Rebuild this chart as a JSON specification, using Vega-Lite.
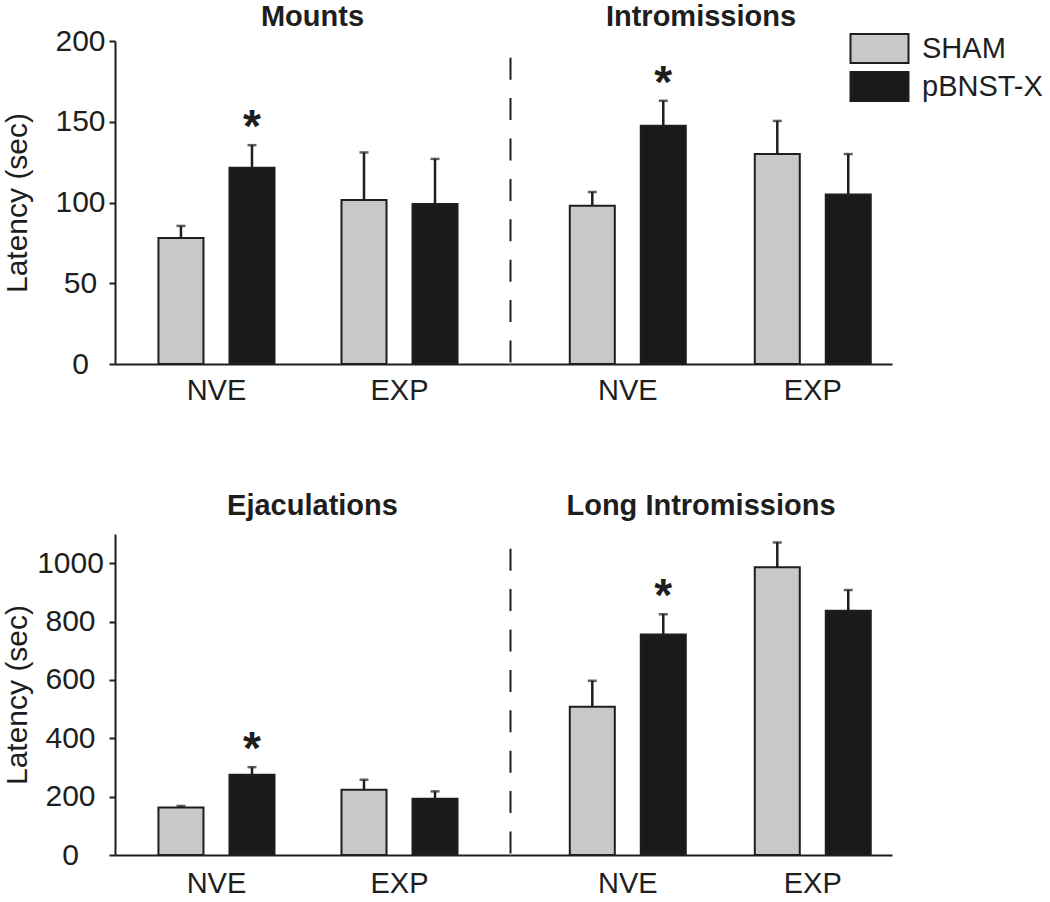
{
  "$schema": "https://vega.github.io/schema/vega-lite/v6.json",
  "padding": {"left": 2, "top": 3, "right": 5, "bottom": 5},
  "columns": 2,
  "bounds": "flush",
  "align": "each",
  "spacing": {"row": 170, "column": 0},
  "datasets": {
    "latency": [
      {"panel": "Mounts", "exp": "NVE", "group": "SHAM", "value": 78, "upper": 85.5, "star": ""},
      {"panel": "Mounts", "exp": "NVE", "group": "pBNST-X", "value": 121.5, "upper": 135.5, "star": "*"},
      {"panel": "Mounts", "exp": "EXP", "group": "SHAM", "value": 101.5, "upper": 131, "star": ""},
      {"panel": "Mounts", "exp": "EXP", "group": "pBNST-X", "value": 99, "upper": 127, "star": ""},
      {"panel": "Intromissions", "exp": "NVE", "group": "SHAM", "value": 98, "upper": 106.5, "star": ""},
      {"panel": "Intromissions", "exp": "NVE", "group": "pBNST-X", "value": 147.5, "upper": 163, "star": "*"},
      {"panel": "Intromissions", "exp": "EXP", "group": "SHAM", "value": 130, "upper": 150.5, "star": ""},
      {"panel": "Intromissions", "exp": "EXP", "group": "pBNST-X", "value": 105, "upper": 130, "star": ""},
      {"panel": "Ejaculations", "exp": "NVE", "group": "SHAM", "value": 163, "upper": 168, "star": ""},
      {"panel": "Ejaculations", "exp": "NVE", "group": "pBNST-X", "value": 275, "upper": 301, "star": "*"},
      {"panel": "Ejaculations", "exp": "EXP", "group": "SHAM", "value": 224, "upper": 258, "star": ""},
      {"panel": "Ejaculations", "exp": "EXP", "group": "pBNST-X", "value": 193, "upper": 218, "star": ""},
      {"panel": "Long Intromissions", "exp": "NVE", "group": "SHAM", "value": 508, "upper": 597, "star": ""},
      {"panel": "Long Intromissions", "exp": "NVE", "group": "pBNST-X", "value": 756, "upper": 825, "star": "*"},
      {"panel": "Long Intromissions", "exp": "EXP", "group": "SHAM", "value": 986, "upper": 1071, "star": ""},
      {"panel": "Long Intromissions", "exp": "EXP", "group": "pBNST-X", "value": 837, "upper": 908, "star": ""}
    ]
  },
  "config": {
    "font": "Liberation Sans",
    "view": {"stroke": null},
    "axis": {
      "domainColor": "#1e1e1e", "domainWidth": 2, "tickColor": "#1e1e1e", "tickWidth": 2, "tickSize": 6,
      "labelColor": "#1e1e1e", "labelFont": "Liberation Sans", "titleFont": "Liberation Sans",
      "titleColor": "#1e1e1e", "titleFontWeight": "normal", "grid": false
    },
    "axisX": {"ticks": false, "tickSize": 0, "labelFontSize": 29, "labelAngle": 0, "labelPadding": 12},
    "axisY": {"labelFontSize": 30, "titleFontSize": 30, "labelAlign": "center", "titleBaseline": "alphabetic"},
    "title": {"font": "Liberation Sans", "fontSize": 29, "fontWeight": "bold", "color": "#1e1e1e", "frame": "group", "anchor": "middle", "baseline": "alphabetic"},
    "legend": {
      "orient": "none", "legendX": 749, "legendY": -8, "title": null,
      "symbolType": "M-2,-1H2V1H-2Z", "symbolSize": 841,
      "symbolStrokeColor": "#1e1e1e", "symbolStrokeWidth": 2, "rowPadding": 1,
      "labelFont": "Liberation Sans", "labelFontSize": 29, "labelColor": "#1e1e1e", "labelOffset": 27
    }
  },
  "resolve": {"scale": {"x": "independent", "y": "independent", "xOffset": "independent"}},
  "concat": [
    {
      "width": 395, "height": 323,
      "title": {"text": "Mounts", "offset": -6},
      "data": {"name": "latency"},
      "transform": [{"filter": "datum.panel === 'Mounts'"}],
      "encoding": {
        "x": {"field": "exp", "type": "nominal", "sort": ["NVE", "EXP"], "title": null,
              "scale": {"paddingInner": 0.366, "paddingOuter": 0.262, "align": 0.453}},
        "xOffset": {"field": "group", "type": "nominal", "sort": ["SHAM", "pBNST-X"], "scale": {"paddingInner": 0.366, "paddingOuter": 0}}
      },
      "layer": [
        {"mark": {"type": "rule", "color": "#1e1e1e", "strokeWidth": 2.5},
         "encoding": {
           "y": {"field": "value", "type": "quantitative", "scale": {"domain": [0, 200]}, "axis": {"values": [0, 50, 100, 150, 200], "title": "Latency (sec)", "labelPadding": 29, "titleX": -89}},
           "y2": {"field": "upper"}}},
        {"mark": {"type": "tick", "color": "#1e1e1e", "size": 9, "thickness": 2.5},
         "encoding": {
           "y": {"field": "upper", "type": "quantitative", "scale": {"domain": [0, 200]}, "axis": {"values": [0, 50, 100, 150, 200], "title": "Latency (sec)", "labelPadding": 29, "titleX": -89}}}},
        {"mark": {"type": "bar", "stroke": "#1e1e1e", "strokeWidth": 2},
         "encoding": {
           "y": {"field": "value", "type": "quantitative", "scale": {"domain": [0, 200]}, "axis": {"values": [0, 50, 100, 150, 200], "title": "Latency (sec)", "labelPadding": 29, "titleX": -89}},
           "color": {"field": "group", "type": "nominal", "scale": {"domain": ["SHAM", "pBNST-X"], "range": ["#c8c8c8", "#1a1a1a"]}}}},
        {"transform": [{"filter": "datum.star !== ''"}],
         "mark": {"type": "text", "fontSize": 46, "fontWeight": "bold", "baseline": "alphabetic", "color": "#1e1e1e", "dy": -3},
         "encoding": {
           "y": {"field": "upper", "type": "quantitative", "scale": {"domain": [0, 200]}, "axis": {"values": [0, 50, 100, 150, 200], "title": "Latency (sec)", "labelPadding": 29, "titleX": -89}},
           "text": {"field": "star"}}}
      ]
    },
    {
      "width": 382, "height": 323,
      "title": {"text": "Intromissions", "offset": 9},
      "data": {"name": "latency"},
      "transform": [{"filter": "datum.panel === 'Intromissions'"}],
      "encoding": {
        "x": {"field": "exp", "type": "nominal", "sort": ["NVE", "EXP"], "title": null,
              "scale": {"paddingInner": 0.373, "paddingOuter": 0.219, "align": 0.738}},
        "xOffset": {"field": "group", "type": "nominal", "sort": ["SHAM", "pBNST-X"], "scale": {"paddingInner": 0.366, "paddingOuter": 0}}
      },
      "layer": [
        {"mark": {"type": "rule", "color": "#1e1e1e", "strokeWidth": 2.5},
         "encoding": {
           "y": {"field": "value", "type": "quantitative", "scale": {"domain": [0, 200]}, "axis": {"labels": false, "ticks": false, "title": null, "domainDash": [22, 18.4], "domainDashOffset": 38.4, "minExtent": 0, "maxExtent": 0}},
           "y2": {"field": "upper"}}},
        {"mark": {"type": "tick", "color": "#1e1e1e", "size": 9, "thickness": 2.5},
         "encoding": {
           "y": {"field": "upper", "type": "quantitative", "scale": {"domain": [0, 200]}, "axis": {"labels": false, "ticks": false, "title": null, "domainDash": [22, 18.4], "domainDashOffset": 38.4, "minExtent": 0, "maxExtent": 0}}}},
        {"mark": {"type": "bar", "stroke": "#1e1e1e", "strokeWidth": 2},
         "encoding": {
           "y": {"field": "value", "type": "quantitative", "scale": {"domain": [0, 200]}, "axis": {"labels": false, "ticks": false, "title": null, "domainDash": [22, 18.4], "domainDashOffset": 38.4, "minExtent": 0, "maxExtent": 0}},
           "color": {"field": "group", "type": "nominal", "scale": {"domain": ["SHAM", "pBNST-X"], "range": ["#c8c8c8", "#1a1a1a"]}}}},
        {"transform": [{"filter": "datum.star !== ''"}],
         "mark": {"type": "text", "fontSize": 46, "fontWeight": "bold", "baseline": "alphabetic", "color": "#1e1e1e", "dy": -3},
         "encoding": {
           "y": {"field": "upper", "type": "quantitative", "scale": {"domain": [0, 200]}, "axis": {"labels": false, "ticks": false, "title": null, "domainDash": [22, 18.4], "domainDashOffset": 38.4, "minExtent": 0, "maxExtent": 0}},
           "text": {"field": "star"}}}
      ]
    },
    {
      "width": 395, "height": 321,
      "title": {"text": "Ejaculations", "offset": 13},
      "data": {"name": "latency"},
      "transform": [{"filter": "datum.panel === 'Ejaculations'"}],
      "encoding": {
        "x": {"field": "exp", "type": "nominal", "sort": ["NVE", "EXP"], "title": null,
              "scale": {"paddingInner": 0.366, "paddingOuter": 0.262, "align": 0.453}, "axis": {"labelPadding": 14}},
        "xOffset": {"field": "group", "type": "nominal", "sort": ["SHAM", "pBNST-X"], "scale": {"paddingInner": 0.366, "paddingOuter": 0}}
      },
      "layer": [
        {"mark": {"type": "rule", "color": "#1e1e1e", "strokeWidth": 2.5},
         "encoding": {
           "y": {"field": "value", "type": "quantitative", "scale": {"domain": [0, 1100]}, "axis": {"values": [0, 200, 400, 600, 800, 1000], "format": "d", "title": "Latency (sec)", "labelPadding": 39, "titleX": -89}},
           "y2": {"field": "upper"}}},
        {"mark": {"type": "tick", "color": "#1e1e1e", "size": 9, "thickness": 2.5},
         "encoding": {
           "y": {"field": "upper", "type": "quantitative", "scale": {"domain": [0, 1100]}, "axis": {"values": [0, 200, 400, 600, 800, 1000], "format": "d", "title": "Latency (sec)", "labelPadding": 39, "titleX": -89}}}},
        {"mark": {"type": "bar", "stroke": "#1e1e1e", "strokeWidth": 2},
         "encoding": {
           "y": {"field": "value", "type": "quantitative", "scale": {"domain": [0, 1100]}, "axis": {"values": [0, 200, 400, 600, 800, 1000], "format": "d", "title": "Latency (sec)", "labelPadding": 39, "titleX": -89}},
           "color": {"field": "group", "type": "nominal", "scale": {"domain": ["SHAM", "pBNST-X"], "range": ["#c8c8c8", "#1a1a1a"]}}}},
        {"transform": [{"filter": "datum.star !== ''"}],
         "mark": {"type": "text", "fontSize": 46, "fontWeight": "bold", "baseline": "alphabetic", "color": "#1e1e1e", "dy": -3},
         "encoding": {
           "y": {"field": "upper", "type": "quantitative", "scale": {"domain": [0, 1100]}, "axis": {"values": [0, 200, 400, 600, 800, 1000], "format": "d", "title": "Latency (sec)", "labelPadding": 39, "titleX": -89}},
           "text": {"field": "star"}}}
      ]
    },
    {
      "width": 382, "height": 321,
      "title": {"text": "Long Intromissions", "offset": 13},
      "data": {"name": "latency"},
      "transform": [{"filter": "datum.panel === 'Long Intromissions'"}],
      "encoding": {
        "x": {"field": "exp", "type": "nominal", "sort": ["NVE", "EXP"], "title": null,
              "scale": {"paddingInner": 0.373, "paddingOuter": 0.219, "align": 0.738}, "axis": {"labelPadding": 14}},
        "xOffset": {"field": "group", "type": "nominal", "sort": ["SHAM", "pBNST-X"], "scale": {"paddingInner": 0.366, "paddingOuter": 0}}
      },
      "layer": [
        {"mark": {"type": "rule", "color": "#1e1e1e", "strokeWidth": 2.5},
         "encoding": {
           "y": {"field": "value", "type": "quantitative", "scale": {"domain": [0, 1100]}, "axis": {"labels": false, "ticks": false, "title": null, "domainDash": [22, 18.4], "domainDashOffset": 38.4, "minExtent": 0, "maxExtent": 0}},
           "y2": {"field": "upper"}}},
        {"mark": {"type": "tick", "color": "#1e1e1e", "size": 9, "thickness": 2.5},
         "encoding": {
           "y": {"field": "upper", "type": "quantitative", "scale": {"domain": [0, 1100]}, "axis": {"labels": false, "ticks": false, "title": null, "domainDash": [22, 18.4], "domainDashOffset": 38.4, "minExtent": 0, "maxExtent": 0}}}},
        {"mark": {"type": "bar", "stroke": "#1e1e1e", "strokeWidth": 2},
         "encoding": {
           "y": {"field": "value", "type": "quantitative", "scale": {"domain": [0, 1100]}, "axis": {"labels": false, "ticks": false, "title": null, "domainDash": [22, 18.4], "domainDashOffset": 38.4, "minExtent": 0, "maxExtent": 0}},
           "color": {"field": "group", "type": "nominal", "scale": {"domain": ["SHAM", "pBNST-X"], "range": ["#c8c8c8", "#1a1a1a"]}}}},
        {"transform": [{"filter": "datum.star !== ''"}],
         "mark": {"type": "text", "fontSize": 46, "fontWeight": "bold", "baseline": "alphabetic", "color": "#1e1e1e", "dy": -3},
         "encoding": {
           "y": {"field": "upper", "type": "quantitative", "scale": {"domain": [0, 1100]}, "axis": {"labels": false, "ticks": false, "title": null, "domainDash": [22, 18.4], "domainDashOffset": 38.4, "minExtent": 0, "maxExtent": 0}},
           "text": {"field": "star"}}}
      ]
    }
  ]
}
